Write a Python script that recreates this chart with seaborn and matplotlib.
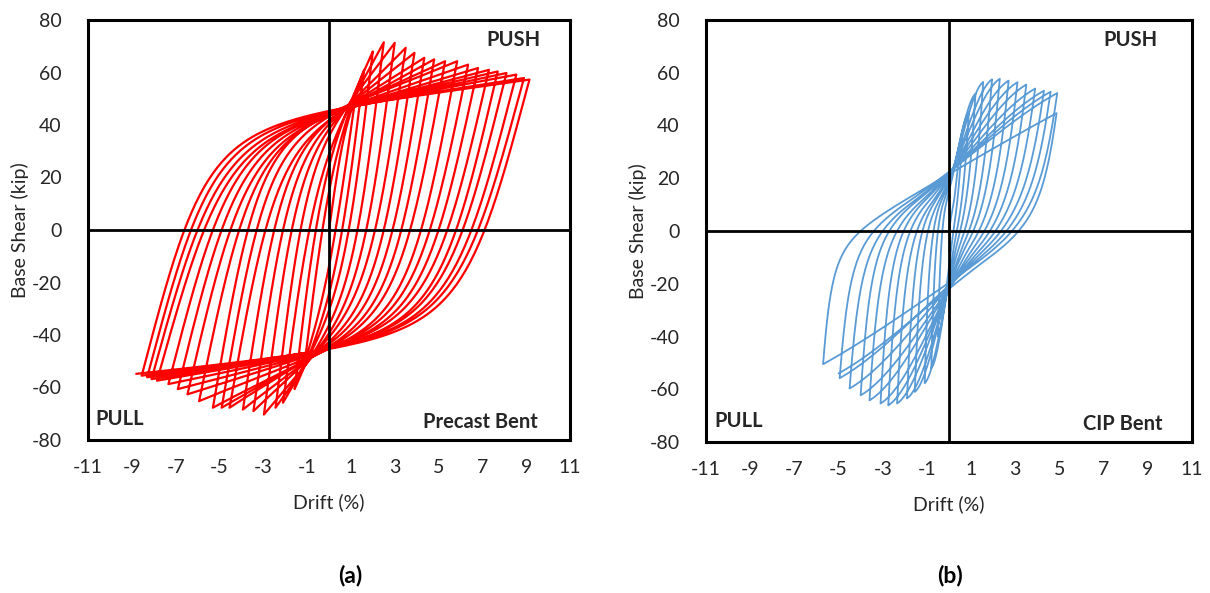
import numpy as np
import pandas as pd
import matplotlib
matplotlib.use("Agg")
import matplotlib.pyplot as plt
import seaborn as sns

# ---------------- data ----------------
# Precast bent: peak drift (%) / base shear (kip) of every push and pull excursion
precast_push_drift = [1.2, 1.6, 2.0, 2.5, 3.0, 3.5, 3.9, 4.35, 4.8, 5.3, 5.85, 6.35, 6.8, 7.3, 7.7, 8.1, 8.55, 8.9, 9.15]
precast_push_shear = [50, 61, 68, 71.5, 71.3, 69.4, 67.5, 65.6, 65, 64.3, 64.3, 63, 61.7, 61, 60.4, 59.8, 59.2, 57.9, 57.3]
precast_pull_drift = [-1.1, -1.57, -2.1, -2.44, -2.97, -3.45, -3.93, -4.54, -4.9, -5.3, -5.93, -6.46, -6.9, -7.33, -7.85, -8.1, -8.3, -8.55, -8.8]
precast_pull_shear = [-50, -60.6, -65.8, -67.7, -70.3, -69, -68.4, -67.7, -67.7, -67.7, -65.2, -62.6, -60.6, -58.7, -57.4, -56.8, -56.1, -55.5, -54.8]
# zero-shear crossings after each push peak / after each pull peak
precast_push_zero = [0.3, 0.6, 0.9, 1.3, 1.7, 2.1, 2.5, 2.9, 3.3, 3.7, 4.2, 4.6, 5.0, 5.4, 5.8, 6.1, 6.5, 6.8, 7.1]
precast_pull_zero = [-0.3, -0.6, -0.9, -1.3, -1.7, -2.1, -2.5, -2.9, -3.3, -3.7, -4.1, -4.5, -4.9, -5.3, -5.7, -6.0, -6.3, -6.6, -6.9]

# CIP bent
cip_push_drift = [0.6, 0.9, 1.2, 1.55, 1.95, 2.3, 2.7, 3.1, 3.5, 3.9, 4.3, 4.6, 4.9, 4.87]
cip_push_shear = [35, 45, 52, 56.5, 57.5, 57.7, 57, 56.4, 55.5, 54, 53.2, 52.8, 52.3, 44.7]
cip_pull_drift = [-0.5, -0.8, -1.1, -1.55, -1.9, -2.35, -2.75, -3.1, -3.6, -4.0, -4.5, -4.95, -5.7, -5.0]
cip_pull_shear = [-40, -52, -57.7, -61, -63.5, -65.4, -66.1, -65.4, -64.2, -62.3, -59.7, -55.8, -50.5, -54]
cip_push_zero = [0.2, 0.35, 0.5, 0.7, 0.9, 1.1, 1.35, 1.6, 1.85, 2.1, 2.35, 2.6, 2.85, 3.15]
cip_pull_zero = [-0.3, -0.5, -0.7, -0.95, -1.2, -1.45, -1.75, -2.05, -2.35, -2.7, -3.0, -3.4, -4.0, -4.0]

x_ticks = list(range(-11, 12, 2))
y_ticks = list(range(-80, 81, 20))

# loop shape settings (per specimen)
precast_shape = dict(bE=0.8, R=2.5, Fpin=48.0, p=2.5, t0=0.2, cap=0.3)
cip_shape = dict(bE=4.5, R=1.5, Fpin=22.0, p=2.0, t0=0.3, cap=1.0)


def branch(x0, F0, x1, F1, xr, bE, R, Fpin, p, t0, cap, n=180):
    s = 1.0 if x1 > x0 else -1.0
    U = abs(x1 - x0)
    u = np.linspace(0, U, n)
    Qs = max(Fpin - s * F0 - bE * abs(x0), 5.0)
    dF = s * (F1 - F0)

    def h(uu):
        ss = np.clip((uu / U - t0) / (1 - t0), 0, 1)
        return (1 - cap) * ss ** p + cap * (3 * ss ** 2 - 2 * ss ** 3)

    def shape(E0, uu):
        E1 = max(E0 - bE, 1e-3)
        g = bE * uu + E1 * uu / (1 + (E1 * uu / Qs) ** R) ** (1 / R)
        G = bE * U + E1 * U / (1 + (E1 * U / Qs) ** R) ** (1 / R)
        return g + (dF - G) * h(uu)

    E0 = 60.0
    if xr is not None:
        ur = abs(xr - x0)
        target = -s * F0
        lo, hi = np.log(2.0), np.log(5000.0)
        flo = shape(np.exp(lo), ur) - target
        fhi = shape(np.exp(hi), ur) - target
        if flo < 0 < fhi:
            for _ in range(60):
                mid = 0.5 * (lo + hi)
                if shape(np.exp(mid), ur) - target < 0:
                    lo = mid
                else:
                    hi = mid
            E0 = np.exp(0.5 * (lo + hi))
    return x0 + s * u, F0 + s * shape(E0, u)


def build(push_d, push_f, pull_d, pull_f, push_z, pull_z, prm):
    xs, fs = [], []
    x, f = branch(0.0, 0.0, push_d[0], push_f[0], None, **prm)
    xs.append(x); fs.append(f)
    for i in range(len(push_d)):
        x, f = branch(push_d[i], push_f[i], pull_d[i], pull_f[i], push_z[i], **prm)
        xs.append(x[1:]); fs.append(f[1:])
        if i + 1 < len(push_d):
            x, f = branch(pull_d[i], pull_f[i], push_d[i + 1], push_f[i + 1], pull_z[i], **prm)
            xs.append(x[1:]); fs.append(f[1:])
    return pd.DataFrame({"drift": np.concatenate(xs), "shear": np.concatenate(fs)})


precast_df = build(precast_push_drift, precast_push_shear, precast_pull_drift, precast_pull_shear,
                   precast_push_zero, precast_pull_zero, precast_shape)
cip_df = build(cip_push_drift, cip_push_shear, cip_pull_drift, cip_pull_shear,
               cip_push_zero, cip_pull_zero, cip_shape)

# ---------------- drawing ----------------
sns.set_theme(style="white")
plt.rcParams["font.family"] = ["Lato", "DejaVu Sans"]
plt.rcParams["axes.unicode_minus"] = False

fig = plt.figure(figsize=(12.1, 5.93), dpi=100)
ax_a = fig.add_axes([88 / 1210, 1 - 440 / 593, 482 / 1210, 420 / 593])
ax_b = fig.add_axes([706 / 1210, 1 - 442 / 593, 486 / 1210, 422 / 593])

txt = "#262626"
for ax, df, col, lw, name, push_x, pull_x, name_x in [
    (ax_a, precast_df, "#FF0000", 1.6, "Precast Bent", 0.938, 0.015, 0.934),
    (ax_b, cip_df, "#5B9BD5", 1.3, "CIP Bent", 0.930, 0.018, 0.940),
]:
    sns.lineplot(data=df, x="drift", y="shear", sort=False, estimator=None,
                 color=col, lw=lw, ax=ax, zorder=2)
    ax.axhline(0, color="black", lw=2.0, zorder=3)
    ax.axvline(0, color="black", lw=2.0, zorder=3)
    ax.set_xlim(-11, 11)
    ax.set_ylim(-80, 80)
    ax.set_xticks(x_ticks)
    ax.set_yticks(y_ticks)
    ax.tick_params(axis="x", length=0, pad=14, labelsize=14, colors=txt)
    ax.tick_params(axis="y", length=0, pad=19, labelsize=14, colors=txt)
    for sp in ax.spines.values():
        sp.set_color("black")
        sp.set_linewidth(2.2)
    ax.set_xlabel("Drift (%)", fontsize=14, color=txt, labelpad=12)
    ax.set_ylabel("Base Shear (kip)", fontsize=14, color=txt, labelpad=2)
    ax.grid(False)
    ax.text(push_x, 0.952, "PUSH", transform=ax.transAxes, ha="right", va="center",
            fontsize=14.5, fontweight="bold", color=txt)
    ax.text(pull_x, 0.05, "PULL", transform=ax.transAxes, ha="left", va="center",
            fontsize=14.5, fontweight="bold", color=txt)
    ax.text(name_x, 0.042, name, transform=ax.transAxes, ha="right", va="center",
            fontsize=14.5, fontweight="bold", color=txt)

fig.text(350 / 1210, 1 - 575 / 593, "(a)", ha="center", va="center", fontsize=16.5,
         fontweight="bold", color="black")
fig.text(950 / 1210, 1 - 575 / 593, "(b)", ha="center", va="center", fontsize=16.5,
         fontweight="bold", color="black")

fig.savefig("out.png", dpi=100)
